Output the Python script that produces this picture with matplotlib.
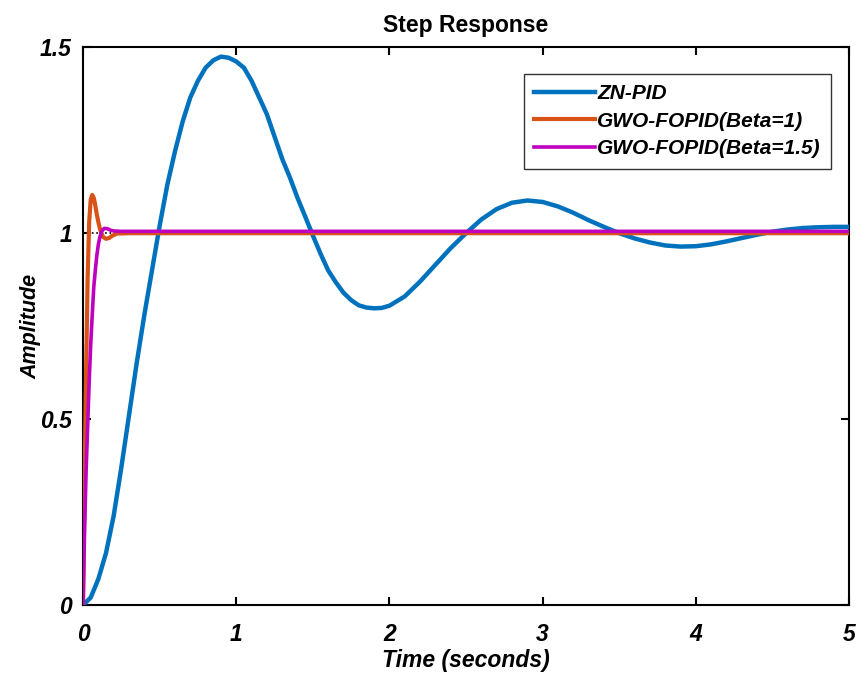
import numpy as np
import matplotlib.pyplot as plt

plt.rcParams['font.family'] = ['Liberation Sans', 'DejaVu Sans']

# ZN-PID step response
t_zn = [0.0, 0.05, 0.1, 0.15, 0.2, 0.25, 0.3, 0.35, 0.4, 0.45, 0.5, 0.55, 0.6, 0.65,
        0.7, 0.75, 0.8, 0.85, 0.9, 0.95, 1.0, 1.05, 1.1, 1.15, 1.2, 1.25, 1.3, 1.35,
        1.4, 1.45, 1.5, 1.55, 1.6, 1.65, 1.7, 1.75, 1.8, 1.85, 1.9, 1.95, 2.0, 2.1,
        2.2, 2.3, 2.4, 2.5, 2.6, 2.7, 2.8, 2.9, 3.0, 3.1, 3.2, 3.3, 3.4, 3.5, 3.6,
        3.7, 3.8, 3.9, 4.0, 4.1, 4.2, 4.3, 4.4, 4.5, 4.6, 4.7, 4.8, 4.9, 5.0]
y_zn = [0.0, 0.02, 0.07, 0.14, 0.24, 0.37, 0.51, 0.65, 0.78, 0.9, 1.02, 1.13, 1.22, 1.3,
        1.365, 1.41, 1.445, 1.465, 1.475, 1.472, 1.462, 1.445, 1.41, 1.365, 1.32, 1.26,
        1.2, 1.15, 1.095, 1.045, 0.994, 0.945, 0.9, 0.868, 0.84, 0.82, 0.806, 0.8,
        0.798, 0.799, 0.805, 0.83, 0.87, 0.915, 0.96, 1.0, 1.037, 1.065, 1.082, 1.088,
        1.084, 1.072, 1.055, 1.035, 1.017, 1.0, 0.986, 0.975, 0.967, 0.964, 0.965,
        0.97, 0.978, 0.987, 0.996, 1.004, 1.01, 1.014, 1.016, 1.017, 1.017]

# GWO-FOPID (Beta=1)
t_b1 = [0.0, 0.01, 0.02, 0.03, 0.04, 0.05, 0.06, 0.07, 0.08, 0.09, 0.1, 0.11, 0.12,
        0.13, 0.15, 0.17, 0.19, 0.22, 0.3, 5.0]
y_b1 = [0.0, 0.33, 0.63, 0.88, 1.03, 1.09, 1.103, 1.095, 1.075, 1.05, 1.03, 1.012, 1.0,
        0.99, 0.985, 0.987, 0.993, 0.999, 1.0, 1.0]

# GWO-FOPID (Beta=1.5)
t_b15 = [0.0, 0.01, 0.02, 0.03, 0.04, 0.05, 0.06, 0.07, 0.08, 0.09, 0.1, 0.11, 0.12,
         0.13, 0.14, 0.16, 0.18, 0.2, 0.25, 5.0]
y_b15 = [0.0, 0.2, 0.36, 0.48, 0.6, 0.7, 0.78, 0.855, 0.9, 0.94, 0.97, 0.99, 1.003,
         1.01, 1.013, 1.012, 1.008, 1.006, 1.005, 1.005]

labels = ['ZN-PID', 'GWO-FOPID(Beta=1)', 'GWO-FOPID(Beta=1.5)']
colors = ['#0072BD', '#D95319', '#BF00BF']

fig = plt.figure(figsize=(8.57, 6.74), dpi=100)
ax = fig.add_axes([0.0969, 0.1024, 0.8938, 0.8274])

ax.axhline(1.0, color='k', ls=':', lw=1.2, zorder=1)
ax.plot(t_zn, y_zn, color=colors[0], lw=3.2, label=labels[0], zorder=3,
        solid_joinstyle='round')
ax.plot(t_b1, y_b1, color=colors[1], lw=3.0, label=labels[1], zorder=3,
        solid_joinstyle='round')
ax.plot(t_b15, y_b15, color=colors[2], lw=2.6, label=labels[2], zorder=3,
        solid_joinstyle='round')

ax.set_xlim(0, 5)
ax.set_ylim(0, 1.5)
ax.set_xticks([0, 1, 2, 3, 4, 5])
ax.set_yticks([0, 0.5, 1, 1.5])
ax.set_xticklabels(['0', '1', '2', '3', '4', '5'])
ax.set_yticklabels(['0', '0.5', '1', '1.5'])

for s in ax.spines.values():
    s.set_linewidth(1.5)
    s.set_color('k')
ax.tick_params(direction='in', length=6, width=1.5, top=True, right=True)
ax.tick_params(axis='x', pad=13)
ax.tick_params(axis='y', pad=8)
for lab in ax.get_xticklabels() + ax.get_yticklabels():
    lab.set_fontsize(16.5)
    lab.set_fontweight('bold')
    lab.set_fontstyle('italic')

ax.set_title('Step Response', fontsize=16.5, fontweight='bold', pad=11)
ax.set_xlabel('Time (seconds)', fontsize=16.5, fontweight='bold', fontstyle='italic', labelpad=2)
ax.set_ylabel('Amplitude', fontsize=15.5, fontweight='bold', fontstyle='italic', labelpad=-1)

leg = ax.legend(loc='upper right', bbox_to_anchor=(0.9765, 0.953), borderaxespad=0,
                prop={'weight': 'bold', 'style': 'italic', 'size': 15},
                handlelength=2.9, handletextpad=0.1, labelspacing=0.42,
                fancybox=False, framealpha=1, borderpad=0.5)
leg.get_frame().set_edgecolor('#333333')
leg.get_frame().set_linewidth(1.0)

fig.savefig('out.png', dpi=100)
